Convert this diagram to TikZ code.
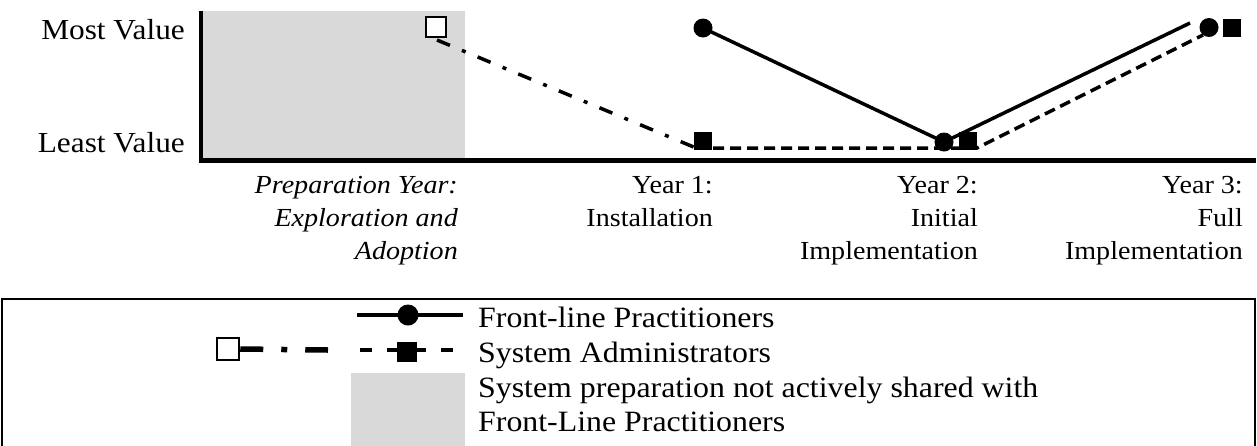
\documentclass[tikz,border=0pt]{standalone}
\usepackage{fontspec}
\setmainfont{Liberation Serif}[FakeStretch=1.08]
\definecolor{prepgray}{HTML}{D9D9D9}
\begin{document}
\begin{tikzpicture}[x=1pt,y=-1pt,
  axisline/.style={line width=4.5pt},
  flline/.style={line width=3.5pt},
  saline/.style={line width=3.5pt, dash pattern=on 11pt off 6pt},
  prepline/.style={line width=3.5pt, dash pattern=on 14pt off 13pt on 4pt off 13pt},
  dotmark/.style={circle, fill=black, inner sep=0pt, minimum size=19pt},
  sqmark/.style={rectangle, fill=black, inner sep=0pt, minimum size=18pt},
  opensq/.style={rectangle, draw=black, line width=2.5pt, fill=white, inner sep=0pt, minimum size=20pt},
  ylab/.style={font=\fontsize{29}{34}\selectfont, inner sep=0pt, anchor=base east},
  xlab/.style={font=\fontsize{26}{33}\selectfont, inner sep=0pt, anchor=north east, align=right},
  lgtext/.style={font=\fontsize{29.5}{34.5}\selectfont, inner sep=0pt, anchor=base west, align=left},
  lgsolid/.style={line width=4.5pt},
  lgdash/.style={line width=4.5pt, dash pattern=on 12pt off 15pt},
  lgprep/.style={line width=5.5pt, dash pattern=on 23pt off 18pt on 6pt off 18pt}
]
\useasboundingbox (0,0) rectangle (1257,445);

% shaded preparation period
\fill[prepgray] (201,11) rectangle (465,160.5);

% axes
\draw[axisline] (201,11) -- (201,160.5) -- (1256,160.5);

% axis labels
\node[ylab] (ymost) at (185,39) {Most Value};
\node[ylab] (yleast) at (185,152) {Least Value};
\node[xlab, font=\fontsize{26}{33}\selectfont\itshape] (xprep) at (458,176) {Preparation Year:\\Exploration and\\Adoption};
\node[xlab] (xone) at (713,176) {Year 1:\\Installation};
\node[xlab] (xtwo) at (978,176) {Year 2:\\Initial\\Implementation};
\node[xlab] (xthree) at (1243,176) {Year 3:\\Full\\Implementation};

% path vertices
\coordinate (p0) at (437,40);
\coordinate (p1) at (696,148);
\coordinate (p2) at (977,148);
\coordinate (p3) at (1203,35);
\coordinate (q3) at (1190,23);

% series lines
\draw[prepline] (p0) -- (p1);
\draw[saline] (p1) -- (p2) -- (p3);

% markers
\node[opensq] (sq0) at (436,27) {};
\node[sqmark] (sa1) at (703,141) {};
\node[sqmark] (sa2) at (968,141) {};
\node[sqmark] (sa3) at (1232,27.5) {};
\node[dotmark] (fl1) at (703,28) {};
\node[dotmark] (fl2) at (944,142) {};
\node[dotmark] (fl3) at (1209,27.5) {};
\draw[flline] (fl1.center) -- (fl2.center) -- (q3);

% legend frame
\draw[line width=2pt] (2,299) rectangle (1255,470);

% legend: front-line practitioners
\coordinate (lf0) at (357,315);
\coordinate (lf1) at (463,315);
\draw[lgsolid] (lf0) -- (lf1);
\node[dotmark, minimum size=21pt] (lfdot) at (408,315) {};
\node[lgtext] (lgfl) at (478,327) {Front-line Practitioners};

% legend: system administrators
\node[opensq, minimum size=22pt] (lsq) at (228,349) {};
\coordinate (ld0) at (328,350);
\draw[lgprep] (lsq.east) -- (ld0);
\coordinate (ls0) at (360,350);
\coordinate (ls1) at (456,350);
\draw[lgdash] (ls0) -- (ls1);
\node[sqmark, minimum size=20pt] (lssq) at (407,352) {};
\node[lgtext] (lgsa) at (478,362) {System Administrators};

% legend: preparation shading (two-line node, base = last line)
\fill[prepgray] (351,373) rectangle (465,460);
\node[lgtext] (lgprepx) at (478,431.5) {System preparation not actively shared with\\Front-Line Practitioners};
\end{tikzpicture}
\end{document}
